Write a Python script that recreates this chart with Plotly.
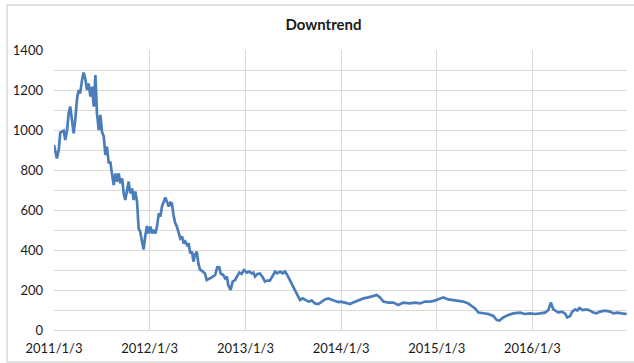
import plotly.graph_objects as go

dates = [
    "2011-01-03", "2011-01-14", "2011-01-21", "2011-01-27", "2011-02-09", "2011-02-15",
    "2011-02-22", "2011-02-28", "2011-03-06", "2011-03-13", "2011-03-19", "2011-03-25",
    "2011-04-01", "2011-04-07", "2011-04-13", "2011-04-20", "2011-04-26", "2011-05-02",
    "2011-05-09", "2011-05-15", "2011-05-22", "2011-05-28", "2011-06-04", "2011-06-10",
    "2011-06-16", "2011-06-23", "2011-06-29", "2011-07-05", "2011-07-12", "2011-07-18",
    "2011-07-24", "2011-07-31", "2011-08-06", "2011-08-12", "2011-08-19", "2011-08-25",
    "2011-08-31", "2011-09-07", "2011-09-13", "2011-09-20", "2011-09-26", "2011-10-02",
    "2011-10-09", "2011-10-15", "2011-10-21", "2011-10-28", "2011-11-03", "2011-11-09",
    "2011-11-16", "2011-11-22", "2011-11-28", "2011-12-05", "2011-12-11", "2011-12-17",
    "2011-12-24", "2011-12-30", "2012-01-06", "2012-01-12", "2012-01-19", "2012-01-25",
    "2012-01-31", "2012-02-07", "2012-02-13", "2012-02-19", "2012-02-26", "2012-03-03",
    "2012-03-09", "2012-03-16", "2012-03-22", "2012-03-28", "2012-04-04", "2012-04-10",
    "2012-04-16", "2012-04-23", "2012-04-29", "2012-05-06", "2012-05-12", "2012-05-18",
    "2012-05-25", "2012-05-31", "2012-06-06", "2012-06-13", "2012-06-18", "2012-06-24",
    "2012-07-01", "2012-07-07", "2012-07-13", "2012-07-24", "2012-08-01", "2012-08-08",
    "2012-08-14", "2012-08-27", "2012-09-09", "2012-09-17", "2012-09-25", "2012-09-30",
    "2012-10-10", "2012-10-17", "2012-10-24", "2012-10-29", "2012-11-07", "2012-11-15",
    "2012-11-24", "2012-12-03", "2012-12-10", "2012-12-19", "2012-12-28", "2013-01-08",
    "2013-01-17", "2013-01-27", "2013-02-02", "2013-02-08", "2013-02-17", "2013-02-27",
    "2013-03-10", "2013-03-18", "2013-03-27", "2013-04-06", "2013-04-17", "2013-04-26",
    "2013-05-04", "2013-05-15", "2013-05-25", "2013-06-03", "2013-06-11", "2013-06-22",
    "2013-07-02", "2013-07-11", "2013-07-20", "2013-07-30", "2013-08-09", "2013-08-22",
    "2013-08-31", "2013-09-13", "2013-09-25", "2013-10-08", "2013-10-21", "2013-11-02",
    "2013-11-15", "2013-11-28", "2013-12-11", "2013-12-23", "2013-12-30", "2014-01-18",
    "2014-02-06", "2014-02-18", "2014-03-10", "2014-03-29", "2014-04-17", "2014-05-06",
    "2014-05-19", "2014-05-31", "2014-06-13", "2014-07-02", "2014-07-21", "2014-08-09",
    "2014-08-28", "2014-09-23", "2014-10-12", "2014-10-31", "2014-11-19", "2014-12-08",
    "2014-12-27", "2015-01-16", "2015-01-28", "2015-02-16", "2015-03-07", "2015-03-26",
    "2015-04-14", "2015-05-03", "2015-05-16", "2015-05-29", "2015-06-11", "2015-06-30",
    "2015-07-19", "2015-08-07", "2015-08-20", "2015-08-30", "2015-09-14", "2015-10-03",
    "2015-10-22", "2015-11-17", "2015-12-06", "2015-12-25", "2016-01-13", "2016-02-01",
    "2016-02-20", "2016-03-04", "2016-03-13", "2016-03-23", "2016-04-05", "2016-04-11",
    "2016-04-24", "2016-05-06", "2016-05-15", "2016-05-26", "2016-06-03", "2016-06-14",
    "2016-06-22", "2016-06-30", "2016-07-13", "2016-07-28", "2016-08-10", "2016-08-22",
    "2016-09-04", "2016-09-17", "2016-10-06", "2016-10-25", "2016-11-07", "2016-11-22",
    "2016-12-09", "2016-12-28",
]

values = [
    925, 858, 900, 987, 997, 950,
    1000, 1083, 1117, 1033, 983, 1050,
    1158, 1200, 1183, 1250, 1287, 1258,
    1200, 1233, 1167, 1217, 1117, 1275,
    1083, 1000, 1075, 992, 967, 875,
    917, 833, 842, 783, 725, 783,
    742, 783, 733, 758, 683, 650,
    700, 742, 683, 708, 650, 692,
    642, 508, 492, 442, 403, 467,
    520, 483, 517, 483, 500, 483,
    517, 583, 567, 617, 637, 663,
    642, 617, 637, 633, 567, 533,
    517, 483, 458, 467, 433, 442,
    425, 433, 383, 392, 342, 375,
    392, 333, 303, 292, 283, 250,
    253, 263, 275, 313, 313, 283,
    275, 258, 267, 225, 200, 242,
    250, 275, 287, 280, 300, 287,
    292, 283, 287, 267, 280, 283,
    263, 242, 247, 247, 275, 292,
    283, 292, 283, 292, 275, 247,
    217, 192, 175, 150, 158, 150,
    142, 147, 133, 130, 142, 153,
    158, 150, 145, 140, 142, 137,
    130, 137, 147, 158, 163, 170,
    175, 163, 142, 137, 137, 125,
    137, 133, 137, 133, 142, 142,
    147, 158, 163, 153, 150, 147,
    142, 133, 120, 108, 87, 83,
    80, 70, 50, 47, 63, 75,
    83, 87, 80, 83, 80, 83,
    87, 100, 137, 103, 92, 87,
    92, 83, 63, 70, 92, 103,
    97, 110, 100, 103, 97, 87,
    83, 92, 97, 92, 83, 87,
    83, 80,
]

tick_dates = ["2011-01-03", "2012-01-03", "2013-01-03", "2014-01-03", "2015-01-03", "2016-01-03"]
tick_labels = ["2011/1/3", "2012/1/3", "2013/1/3", "2014/1/3", "2015/1/3", "2016/1/3"]
y_ticks = [0, 200, 400, 600, 800, 1000, 1200, 1400]

W, H = 634, 363
L, R, T, B = 54, 7, 50, 33
pw, ph = W - L - R, H - T - B

fig = go.Figure()
fig.add_trace(go.Scatter(
    x=dates, y=values, mode="lines",
    line=dict(color="#4A7EBB", width=2.7),
    showlegend=False, hoverinfo="skip",
))

grid = "#D9D9D9"
fig.update_layout(
    width=W, height=H,
    margin=dict(l=L, r=R, t=T, b=B),
    paper_bgcolor="white", plot_bgcolor="white",
    font=dict(family="Lato, Liberation Sans, sans-serif", size=13, color="#1a1a1a"),
    title=dict(text="<b>Downtrend</b>", x=323.5 / W, xref="container",
               xanchor="center", y=1 - 25 / H, yanchor="middle",
               font=dict(size=15, color="#1a1a1a")),
    xaxis=dict(
        type="date", range=["2011-01-03", "2016-12-29"],
        tickvals=tick_dates, ticktext=tick_labels,
        showgrid=True, gridcolor=grid, gridwidth=1,
        showline=True, linecolor=grid, linewidth=1,
        ticks="", zeroline=False, tickfont=dict(size=13),
        ticklabelstandoff=6,
    ),
    yaxis=dict(
        range=[0, 1400], tickvals=y_ticks,
        showgrid=True, gridcolor=grid, gridwidth=1,
        minor=dict(dtick=100, showgrid=True, gridcolor=grid, gridwidth=1),
        showline=False, zeroline=False, ticks="",
        ticklabelstandoff=10, tickfont=dict(size=13),
    ),
)

# outer chart border
fig.add_shape(type="rect", xref="paper", yref="paper",
              x0=(7 - L) / pw, x1=(W + 5 - L) / pw,
              y0=(T + ph - 362) / ph, y1=(T + ph - 5) / ph,
              line=dict(color="#D9D9D9", width=1.5), fillcolor="rgba(0,0,0,0)", layer="below")

fig.write_html("out.html")
